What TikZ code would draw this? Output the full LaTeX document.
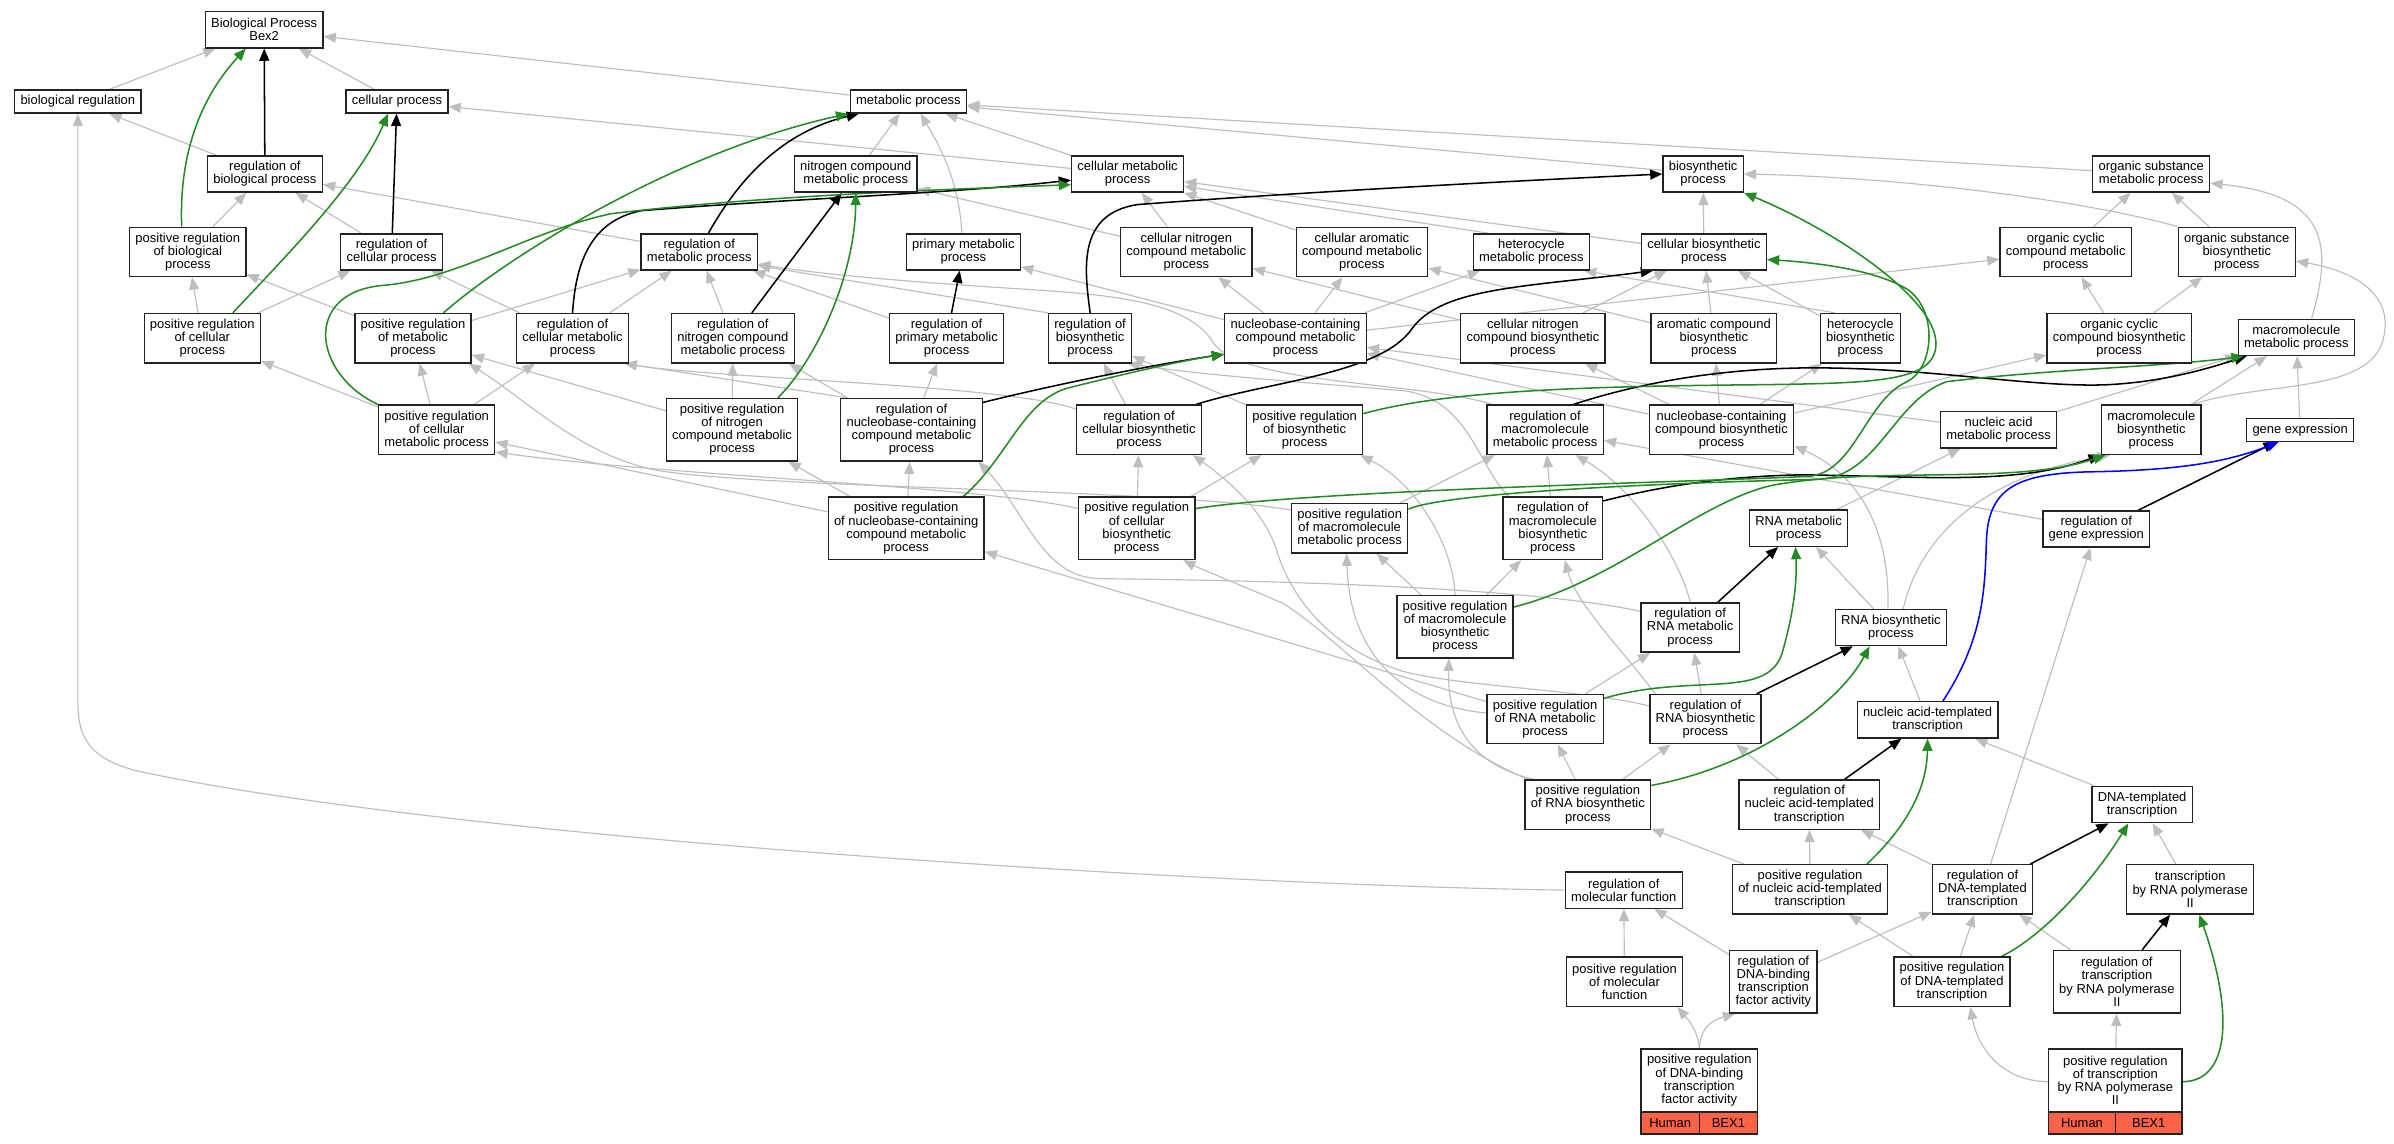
\documentclass[tikz,border=0pt]{standalone}
\usepackage{fontspec}
\setmainfont{Liberation Sans}
\usetikzlibrary{arrows.meta,calc}
\pgfdeclarelayer{bg}
\pgfsetlayers{bg,main}
\definecolor{edgegray}{HTML}{BEBEBE}
\definecolor{fgreen}{HTML}{228B22}
\definecolor{tomatoc}{HTML}{FF6347}
\definecolor{bordc}{HTML}{222222}
\begin{document}
\begin{tikzpicture}[x=1pt,y=-1pt,
  every node/.style={font=\fontsize{8.5}{8.6}\selectfont},
  bx/.style={draw=bordc, line width=0.9pt, fill=white, rectangle, align=center, inner xsep=3.8pt, inner ysep=0pt},
  lone/.style={bx, minimum height=15.1pt},
  ltwo/.style={bx, minimum height=23.7pt},
  lthree/.style={bx, minimum height=32.3pt},
  lfour/.style={bx, minimum height=40.9pt},
  cellbox/.style={draw=bordc, line width=0.9pt, fill=tomatoc, minimum height=14pt, inner sep=0pt},
  gedge/.style={draw=edgegray, line width=0.75pt, -{Triangle[length=8pt,width=6.5pt]}},
  kedge/.style={draw=black, line width=1pt, -{Triangle[length=8pt,width=6.5pt]}},
  gredge/.style={draw=fgreen, line width=1pt, -{Triangle[length=8pt,width=6.5pt]}},
  bledge/.style={draw=blue, line width=1pt, -{Triangle[length=8pt,width=6.5pt]}}
]
\useasboundingbox (0,0) rectangle (1568,749);
% ---------------- nodes ----------------
\node[ltwo] (BP) at (173,19.5) {Biological Process\\Bex2};
\node[lone] (bioreg) at (51,66.5) {biological regulation};
\node[lone] (cellproc) at (260,66.5) {cellular process};
\node[lone] (metproc) at (595,66.5) {metabolic process};
\node[ltwo] (regbio) at (173.5,114) {regulation of\\biological process};
\node[ltwo] (ncmp) at (560.5,114) {nitrogen compound\\metabolic process};
\node[ltwo] (cellmet) at (738.5,114) {cellular metabolic\\process};
\node[ltwo] (biosyn) at (1115.5,114) {biosynthetic\\process};
\node[ltwo] (osmp) at (1409,114) {organic substance\\metabolic process};
\node[lthree] (posregbio) at (123,165) {positive regulation\\of biological\\process};
\node[ltwo] (regcell) at (256.5,165) {regulation of\\cellular process};
\node[ltwo] (regmet) at (458,165) {regulation of\\metabolic process};
\node[ltwo] (primet) at (631,165) {primary metabolic\\process};
\node[lthree] (cncmp) at (777,165) {cellular nitrogen\\compound metabolic\\process};
\node[lthree] (camp) at (892,165) {cellular aromatic\\compound metabolic\\process};
\node[ltwo] (hmp) at (1003,165) {heterocycle\\metabolic process};
\node[ltwo] (cbp) at (1116,165) {cellular biosynthetic\\process};
\node[lthree] (occmp) at (1353,165) {organic cyclic\\compound metabolic\\process};
\node[lthree] (osbp) at (1465,165) {organic substance\\biosynthetic\\process};
\node[lthree] (posregcell) at (132.5,221.5) {positive regulation\\of cellular\\process};
\node[lthree] (posregmet) at (270.5,221.5) {positive regulation\\of metabolic\\process};
\node[lthree] (regcellmet) at (375,221.5) {regulation of\\cellular metabolic\\process};
\node[lthree] (regncmp) at (480,221.5) {regulation of\\nitrogen compound\\metabolic process};
\node[lthree] (regprimet) at (620,221.5) {regulation of\\primary metabolic\\process};
\node[lthree] (regbiosyn) at (714,221.5) {regulation of\\biosynthetic\\process};
\node[lthree] (ncmp2) at (848.5,221.5) {nucleobase-containing\\compound metabolic\\process};
\node[lthree] (cncbp) at (1004,221.5) {cellular nitrogen\\compound biosynthetic\\process};
\node[lthree] (acbp) at (1122.5,221.5) {aromatic compound\\biosynthetic\\process};
\node[lthree] (hbp) at (1218.5,221.5) {heterocycle\\biosynthetic\\process};
\node[lthree] (occbp) at (1388,221.5) {organic cyclic\\compound biosynthetic\\process};
\node[ltwo] (mmp) at (1504,221) {macromolecule\\metabolic process};
\node[lthree] (posregcellmet) at (286,281.5) {positive regulation\\of cellular\\metabolic process};
\node[lfour] (posregncmp) at (479.5,281.5) {positive regulation\\of nitrogen\\compound metabolic\\process};
\node[lfour] (regncmp2) at (597,281.5) {regulation of\\nucleobase-containing\\compound metabolic\\process};
\node[lthree] (regcbp) at (746,281.5) {regulation of\\cellular biosynthetic\\process};
\node[lthree] (posregbiosyn) at (854.5,281.5) {positive regulation\\of biosynthetic\\process};
\node[lthree] (regmmp) at (1012,281.5) {regulation of\\macromolecule\\metabolic process};
\node[lthree] (ncbp) at (1127.5,281.5) {nucleobase-containing\\compound biosynthetic\\process};
\node[ltwo] (nametp) at (1309,281.5) {nucleic acid\\metabolic process};
\node[lthree] (mbp) at (1409,281.5) {macromolecule\\biosynthetic\\process};
\node[lone] (geneexp) at (1506.5,281.5) {gene expression};
\node[lfour] (posregncmp2) at (593.5,346) {positive regulation\\of nucleobase-containing\\compound metabolic\\process};
\node[lfour] (posregcbp) at (744.5,346) {positive regulation\\of cellular\\biosynthetic\\process};
\node[lthree] (posregmmp) at (884,346) {positive regulation\\of macromolecule\\metabolic process};
\node[lfour] (regmbp) at (1017,346) {regulation of\\macromolecule\\biosynthetic\\process};
\node[ltwo] (rnamp) at (1178,346) {RNA metabolic\\process};
\node[ltwo] (regge) at (1373,346.5) {regulation of\\gene expression};
\node[lfour] (posregmbp) at (953,410.5) {positive regulation\\of macromolecule\\biosynthetic\\process};
\node[lthree] (regrnamp) at (1107,411) {regulation of\\RNA metabolic\\process};
\node[ltwo] (rnabp) at (1238.5,411) {RNA biosynthetic\\process};
\node[lthree] (posregrnamp) at (1012,471) {positive regulation\\of RNA metabolic\\process};
\node[lthree] (regrnabp) at (1117,471) {regulation of\\RNA biosynthetic\\process};
\node[ltwo] (natt) at (1262.5,471.5) {nucleic acid-templated\\transcription};
\node[lthree] (posregrnabp) at (1040,527) {positive regulation\\of RNA biosynthetic\\process};
\node[lthree] (regnatt) at (1185,527) {regulation of\\nucleic acid-templated\\transcription};
\node[ltwo] (dtt) at (1403,527) {DNA-templated\\transcription};
\node[ltwo] (regmf) at (1063.5,583) {regulation of\\molecular function};
\node[lthree] (posregnatt) at (1185.5,582.5) {positive regulation\\of nucleic acid-templated\\transcription};
\node[lthree] (regdtt) at (1298.5,582.5) {regulation of\\DNA-templated\\transcription};
\node[lthree] (trnap2) at (1434.5,582.5) {transcription\\by RNA polymerase\\II};
\node[lthree] (posregmf) at (1064,643) {positive regulation\\of molecular\\function};
\node[lfour] (regdbtf) at (1161.5,643) {regulation of\\DNA-binding\\transcription\\factor activity};
\node[lthree] (posregdtt) at (1278.5,643) {positive regulation\\of DNA-templated\\transcription};
\node[lfour] (regtrnap2) at (1386.5,643) {regulation of\\transcription\\by RNA polymerase\\II};
\node[lfour, minimum width=76.2pt] (pdbtf) at (1113,707.5) {positive regulation\\of DNA-binding\\transcription\\factor activity};
\node[cellbox, anchor=north west, minimum width=38.1pt] (pdbtfh) at (pdbtf.south west) {Human};
\node[cellbox, anchor=north east, minimum width=38.1pt] (pdbtfb) at (pdbtf.south east) {BEX1};
\node[lfour, minimum width=87.4pt] (ptrnap2) at (1385.5,707.5) {positive regulation\\of transcription\\by RNA polymerase\\II};
\node[cellbox, anchor=north west, minimum width=43.7pt] (ptrnap2h) at (ptrnap2.south west) {Human};
\node[cellbox, anchor=north east, minimum width=43.7pt] (ptrnap2b) at (ptrnap2.south east) {BEX1};
% ---------------- edges ----------------
\begin{pgfonlayer}{bg}
\fill[white] (0,0) rectangle (1568,749);
% gray straight
\draw[gedge] (bioreg) -- (BP);
\draw[gedge] (cellproc) -- (BP);
\draw[gedge] (metproc) -- (BP);
\draw[gedge] (regbio) -- (bioreg);
\draw[gedge] (ncmp) -- (metproc);
\draw[gedge] (cellmet) -- (metproc);
\draw[gedge] (cellmet) -- (cellproc);
\draw[gedge] (biosyn) -- (metproc);
\draw[gedge] (osmp) -- (metproc);
\draw[gedge] (posregbio) -- (regbio);
\draw[gedge] (regcell) -- (regbio);
\draw[gedge] (regmet) -- (regbio);
\draw[gedge] (cncmp) -- (ncmp);
\draw[gedge] (cncmp) -- (cellmet);
\draw[gedge] (camp) -- (cellmet);
\draw[gedge] ($(hmp.north west)+(10,0)$) -- ($(cellmet.east)+(0,8)$);
\draw[gedge] (cbp) -- (biosyn);
\draw[gedge] (cbp) -- (cellmet);
\draw[gedge] (occmp) -- (osmp);
\draw[gedge] (osbp) -- (osmp);
\draw[gedge] (posregcell) -- (posregbio);
\draw[gedge] (posregcell) -- (regcell);
\draw[gedge] (posregmet) -- (posregbio);
\draw[gedge] (posregmet) -- (regmet);
\draw[gedge] (regcellmet) -- (regcell);
\draw[gedge] (regcellmet) -- (regmet);
\draw[gedge] (regncmp) -- (regmet);
\draw[gedge] (regprimet) -- (regmet);
\draw[gedge] (regbiosyn.north west) -- ($(regmet.east)+(0,9)$);
\draw[gedge] (ncmp2) -- (cncmp);
\draw[gedge] (ncmp2) -- (camp);
\draw[gedge] (ncmp2) -- (hmp);
\draw[gedge] (ncmp2) -- (occmp);
\draw[gedge] (ncmp2) -- (primet);
\draw[gedge] (cncbp) -- (cncmp);
\draw[gedge] (cncbp) -- (cbp);
\draw[gedge] (acbp) -- (camp);
\draw[gedge] (acbp) -- (cbp);
\draw[gedge] ($(hbp.north west)+(10,0)$) -- ($(hmp.south east)+(-4,0)$);
\draw[gedge] (hbp) -- (cbp);
\draw[gedge] (occbp) -- (occmp);
\draw[gedge] (occbp) -- (osbp);
\draw[gedge] (posregcellmet) -- (posregcell);
\draw[gedge] (posregcellmet) -- (posregmet);
\draw[gedge] (posregcellmet) -- (regcellmet);
\draw[gedge] (posregncmp) -- (regncmp);
\draw[gedge] (posregncmp) -- (posregmet);
\draw[gedge] ($(regncmp2.north west)+(5,0)$) -- ($(regcellmet.south east)+(-3,0)$);
\draw[gedge] ($(regncmp2.north west)+(5,0)$) -- ($(regncmp.south east)+(-4,0)$);
\draw[gedge] (regncmp2) -- (regprimet);
\draw[gedge] (regcbp) -- (regbiosyn);
\draw[gedge] (posregbiosyn) -- (regbiosyn);
\draw[gedge] (ncbp) -- (ncmp2);
\draw[gedge] (ncbp) -- (acbp);
\draw[gedge] (ncbp) -- (cncbp);
\draw[gedge] (ncbp) -- (hbp);
\draw[gedge] (ncbp) -- (occbp);
\draw[gedge] (nametp) -- (ncmp2);
\draw[gedge] (nametp) -- (mmp);
\draw[gedge] (mbp) -- (mmp);
\draw[gedge] (geneexp) -- (mmp);
\draw[gedge] (posregncmp2) -- (regncmp2);
\draw[gedge] (posregncmp2) -- (posregncmp);
\draw[gedge] (posregncmp2) -- (posregcellmet);
\draw[gedge] (posregcbp) -- (regcbp);
\draw[gedge] (posregcbp) -- (posregbiosyn);
\draw[gedge] (posregmmp) -- (regmmp);
\draw[gedge] (regmbp) -- (regmmp);
\draw[gedge] (rnamp) -- (nametp);
\draw[gedge] (regge) -- (regmmp);
\draw[gedge] (posregmbp) -- (posregmmp);
\draw[gedge] (posregmbp) -- (regmbp);
\draw[gedge] (rnabp) -- (rnamp);
\draw[gedge] (posregrnamp) -- (regrnamp);
\draw[gedge] (posregrnamp) -- (posregncmp2);
\draw[gedge] (regrnabp) -- (regrnamp);
\draw[gedge] (natt) -- (rnabp);
\draw[gedge] (posregrnabp) -- (regrnabp);
\draw[gedge] (posregrnabp) -- (posregrnamp);
\draw[gedge] (regnatt) -- (regrnabp);
\draw[gedge] (dtt) -- (natt);
\draw[gedge] (posregnatt) -- (regnatt);
\draw[gedge] (posregnatt) -- (posregrnabp);
\draw[gedge] (regdtt) -- (regnatt);
\draw[gedge] (regdtt) -- (regge);
\draw[gedge] (trnap2) -- (dtt);
\draw[gedge] (posregmf) -- (regmf);
\draw[gedge] (regdbtf) -- (regmf);
\draw[gedge] (regdbtf) -- (regdtt);
\draw[gedge] (posregdtt) -- (regdtt);
\draw[gedge] (posregdtt) -- (posregnatt);
\draw[gedge] (regtrnap2) -- (regdtt);
\draw[gedge] (ptrnap2) -- (regtrnap2);
% gray curves
\draw[gedge] (osbp.north west) .. controls (1360,130) and (1240,116) .. (biosyn.east);
\draw[gedge] ($(mmp.north)+(10,0)$) .. controls (1528,160) and (1525,128) .. ($(osmp.east)+(0,6)$);
\draw[gedge] ($(primet.north)+(-1,0)$) .. controls (628,115) and (612,90) .. ($(metproc.south)+(8,0)$);
\draw[gedge] ($(regmmp.north west)+(4,0)$) .. controls (930,250) and (815,252) .. (795,225) .. controls (780,200) and (740,194) .. (680,190) .. controls (600,185) and (540,180) .. ($(regmet.east)+(0,8)$);
\draw[gedge] ($(posregmmp.west)+(0,-12)$) .. controls (760,320) and (500,320) .. (430,308) .. controls (380,298) and (345,262) .. ($(posregmet.south east)+(-2,0)$);
\draw[gedge] ($(posregcbp.west)+(0,-13)$) .. controls (640,318) and (440,312) .. ($(posregcellmet.south east)+(0,-2)$);
\draw[gedge] ($(regcbp.north west)+(0,3)$) .. controls (660,252) and (470,248) .. ($(regcellmet.south east)+(-3,0)$);
\draw[gedge] ($(regmbp.north west)+(4,0)$) .. controls (968,305) and (962,262) .. (920,256) .. controls (850,250) and (790,246) .. ($(regbiosyn.south east)+(-3,0)$);
\draw[gedge] ($(regrnamp.north west)+(0,6)$) .. controls (1000,384) and (820,380) .. (720,379) .. controls (682,378) and (672,335) .. ($(regncmp2.south east)+(-3,0)$);
\draw[gedge] ($(regrnabp.north west)+(4,0)$) .. controls (1062,425) and (1032,395) .. ($(regmbp.south)+(8,0)$);
\draw[gedge] ($(regrnabp.north west)+(0,8)$) .. controls (1040,452) and (960,450) .. (920,440) .. controls (870,425) and (845,390) .. (836,360) .. controls (828,335) and (805,315) .. ($(regcbp.south east)+(-6,0)$);
\draw[gedge] ($(posregrnabp.north west)+(2,0)$) .. controls (930,480) and (880,420) .. (840,395) .. controls (800,378) and (785,372) .. ($(posregcbp.south east)+(-8,0)$);
\draw[gedge] ($(posregrnabp.north west)+(6,0)$) .. controls (960,500) and (948,470) .. ($(posregmbp.south)+(-4,0)$);
\draw[gedge] (posregmbp.north) .. controls (952,360) and (930,318) .. ($(posregbiosyn.south east)+(-2,0)$);
\draw[gedge] ($(posregrnamp.west)+(0,-4)$) .. controls (920,462) and (884,430) .. ($(posregmmp.south)+(-2,0)$);
\draw[gedge] (regrnamp.north) .. controls (1100,365) and (1070,320) .. ($(regmmp.south)+(20,0)$);
\draw[gedge] ($(rnabp.north)+(-2,0)$) .. controls (1238,350) and (1220,312) .. ($(ncbp.south east)+(0,-6)$);
\draw[gedge] ($(rnabp.north)+(8,0)$) .. controls (1258,350) and (1300,312) .. ($(mbp.south west)+(6,0)$);
\draw[gedge] ($(mbp.north east)+(-6,0)$) .. controls (1480,250) and (1548,258) .. (1560,225) .. controls (1570,195) and (1545,178) .. ($(osbp.east)+(0,6)$);
\draw[gedge] (pdbtf.north) .. controls (1112,675) and (1106,668) .. ($(posregmf.south east)+(-4,0)$);
\draw[gedge] (pdbtf.north) .. controls (1114,672) and (1122,668) .. ($(regdbtf.south west)+(4,0)$);
\draw[gedge] ($(ptrnap2.west)+(0,1)$) .. controls (1310,708) and (1295,685) .. ($(posregdtt.south)+(12,0)$);
\draw[gedge] (regmf.west) .. controls (800,580) and (300,550) .. (90,505) .. controls (60,497) and (51,485) .. (51,460) -- (bioreg.south);
% black
\draw[kedge] (regbio) -- (BP);
\draw[kedge] (regcell) -- (cellproc);
\draw[kedge] ($(regmet.north)+(6,0)$) .. controls (478,128) and (505,88) .. ($(metproc.south west)+(6,0)$);
\draw[kedge] (regcellmet.north) .. controls (377,175) and (385,145) .. (420,138) .. controls (520,130) and (620,127) .. ($(cellmet.west)+(0,4)$);
\draw[kedge] (regncmp) -- (ncmp);
\draw[kedge] (regprimet) -- (primet);
\draw[kedge] (regbiosyn.north) .. controls (710,175) and (706,140) .. (745,134) .. controls (850,126) and (1000,118) .. (biosyn.west);
\draw[kedge] ($(regncmp2.north east)+(0,3)$) .. controls (690,252) and (760,238) .. ($(ncmp2.south west)+(0,-6)$);
\draw[kedge] ($(regcbp.north east)+(-4,0)$) .. controls (830,250) and (905,245) .. (925,215) .. controls (945,188) and (1000,188) .. ($(cbp.south west)+(8,0)$);
\draw[kedge] ($(regmmp.north east)+(-20,0)$) .. controls (1070,252) and (1120,242) .. (1180,241) .. controls (1260,240) and (1330,254) .. (1380,252) .. controls (1420,250) and (1450,240) .. ($(mmp.south west)+(6,0)$);
\draw[kedge] ($(regmbp.north east)+(0,3)$) .. controls (1090,318) and (1130,312) .. (1180,311) .. controls (1260,312) and (1320,318) .. (mbp.south west);
\draw[kedge] (regrnamp) -- (rnamp);
\draw[kedge] (regrnabp) -- (rnabp);
\draw[kedge] (regnatt) -- (natt);
\draw[kedge] ($(regge.north east)+(-8,0)$) -- ($(geneexp.south)+(-16,0)$);
\draw[kedge] ($(regdtt.north east)+(-2,0)$) -- ($(dtt.south)+(-22,0)$);
\draw[kedge] (regtrnap2) -- (trnap2);
% green
\draw[gredge] ($(posregbio.north)+(-4,0)$) .. controls (117,95) and (135,60) .. ($(BP.south)+(-12,0)$);
\draw[gredge] ($(posregcell.north)+(20,0)$) .. controls (185,170) and (235,120) .. ($(cellproc.south)+(-6,0)$);
\draw[gredge] ($(posregmet.north)+(20,0)$) .. controls (330,170) and (440,100) .. ($(metproc.south west)+(-1,0)$);
\draw[gredge] (posregcellmet.north west) .. controls (205,245) and (198,192) .. (250,187) .. controls (300,183) and (345,152) .. (400,140) .. controls (500,128) and (620,124) .. ($(cellmet.west)+(0,7)$);
\draw[gredge] ($(posregncmp.north)+(30,0)$) .. controls (535,235) and (560,180) .. (ncmp.south);
\draw[gredge] ($(posregncmp2.north east)+(-14,0)$) .. controls (660,300) and (670,262) .. (700,254) .. controls (740,244) and (775,236) .. ($(ncmp2.south west)+(0,-6)$);
\draw[gredge] ($(posregbiosyn.north east)+(0,6)$) .. controls (950,255) and (1050,253) .. (1150,252) .. controls (1230,251) and (1268,250) .. (1268,225) .. controls (1268,195) and (1200,150) .. (biosyn.south east);
\draw[gredge] ($(posregcbp.north east)+(0,8)$) .. controls (860,321) and (1100,316) .. (1185,312) .. controls (1215,309) and (1222,262) .. (1249,250) .. controls (1266,242) and (1270,205) .. (1250,190) .. controls (1230,177) and (1190,172) .. ($(cbp.east)+(0,5)$);
\draw[gredge] ($(posregmmp.north east)+(0,4)$) .. controls (950,322) and (1100,316) .. (1190,314) .. controls (1230,313) and (1240,262) .. (1275,250) .. controls (1340,242) and (1420,240) .. ($(mmp.south west)+(4,0)$);
\draw[gredge] ($(posregmbp.north east)+(0,8)$) .. controls (1060,380) and (1110,330) .. (1160,318) .. controls (1230,305) and (1320,318) .. ($(mbp.south west)+(3,0)$);
\draw[gredge] ($(posregrnamp.north east)+(0,3)$) .. controls (1110,440) and (1160,460) .. (1168,425) .. controls (1175,400) and (1177,380) .. ($(rnamp.south)+(-2,0)$);
\draw[gredge] ($(posregrnabp.north east)+(0,4)$) .. controls (1150,502) and (1205,460) .. ($(rnabp.south)+(-14,0)$);
\draw[gredge] ($(posregnatt.north east)+(-14,0)$) .. controls (1245,545) and (1262,520) .. (natt.south);
\draw[gredge] ($(posregdtt.north east)+(-6,0)$) .. controls (1340,612) and (1372,575) .. ($(dtt.south)+(-9,0)$);
\draw[gredge] ($(ptrnap2.east)+(0,1)$) .. controls (1462,708) and (1462,660) .. ($(trnap2.south)+(6,0)$);
% blue
\draw[bledge] ($(natt.north)+(10,0)$) .. controls (1298,420) and (1300,390) .. (1301,355) .. controls (1302,320) and (1320,310) .. (1370,309) .. controls (1430,308) and (1460,302) .. ($(geneexp.south)+(-14,0)$);
\end{pgfonlayer}
\end{tikzpicture}
\end{document}
